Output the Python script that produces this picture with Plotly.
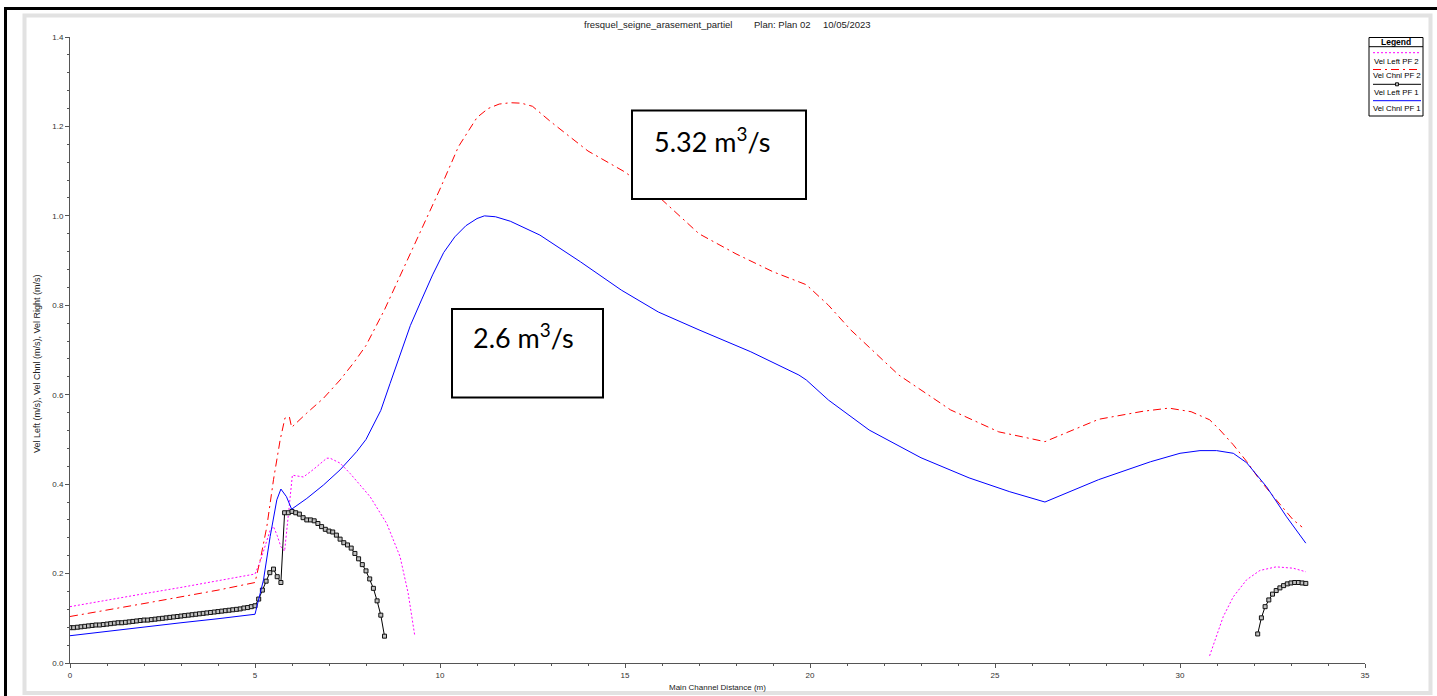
import plotly.graph_objects as go

# ---------------- data ----------------
# Vel Chnl PF 1 (blue solid)
chnl_pf1_x = [0, 1, 2, 3, 4, 5.0, 5.23, 5.41, 5.59, 5.70, 5.85, 5.99, 6.4, 6.85, 7.3, 7.75, 8.0, 8.4, 8.65,
              8.9, 9.2, 9.5, 9.8, 10.1, 10.4, 10.7, 11.0, 11.2, 11.5, 11.9, 12.7, 13.8, 14.9, 15.9, 17.0,
              18.4, 19.7, 19.9, 20.5, 21.6, 23.0, 24.3, 25.4, 26.35, 27.8, 29.2, 30.0, 30.54, 30.99,
              31.44, 31.8, 32.34, 32.88, 33.4]
chnl_pf1_y = [0.061, 0.071, 0.080, 0.090, 0.099, 0.109, 0.186, 0.283, 0.365, 0.389, 0.372, 0.344, 0.368,
              0.398, 0.432, 0.473, 0.500, 0.565, 0.625, 0.685, 0.755, 0.812, 0.868, 0.918, 0.953, 0.978,
              0.994, 1.0, 0.998, 0.988, 0.957, 0.897, 0.834, 0.785, 0.745, 0.696, 0.644, 0.633, 0.588,
              0.521, 0.459, 0.414, 0.383, 0.36, 0.41, 0.45, 0.469, 0.475, 0.475, 0.469, 0.448, 0.394,
              0.327, 0.268]

# Vel Chnl PF 2 (red dash-dot)
chnl_pf2_x = [0, 1, 2, 3, 4, 5.0, 5.14, 5.32, 5.5, 5.68, 5.81, 5.93, 5.99, 6.4, 6.85, 7.3, 7.7, 8.0, 8.5,
              9.0, 9.5, 10.0, 10.5, 11.0, 11.3, 11.6, 11.9, 12.2, 12.5, 13.0, 14.0, 15.0, 16.0, 17.0, 18.0,
              19.0, 19.9, 20.5, 21.1, 22.4, 23.8, 25.1, 26.35, 27.8, 29.0, 29.7, 30.3, 30.8, 31.08, 31.44,
              31.8, 32.16, 32.6, 33.06, 33.3]
chnl_pf2_y = [0.104, 0.118, 0.133, 0.148, 0.163, 0.180, 0.23, 0.305, 0.41, 0.499, 0.548, 0.55, 0.527,
              0.559, 0.592, 0.633, 0.675, 0.71, 0.79, 0.88, 0.97, 1.06, 1.155, 1.22, 1.24, 1.25, 1.253,
              1.252, 1.245, 1.21, 1.145, 1.098, 1.036, 0.96, 0.915, 0.875, 0.846, 0.80, 0.745, 0.644,
              0.566, 0.517, 0.495, 0.545, 0.563, 0.57, 0.562, 0.544, 0.521, 0.488, 0.451, 0.409, 0.365,
              0.32, 0.304]

# Vel Left PF 2 (magenta dotted) - two wetted reaches
left_pf2_x = [0, 1, 2, 3, 4, 5.0, 5.14, 5.27, 5.41, 5.5, 5.6, 5.7, 5.8, 5.9, 6.01, 6.31, 6.58, 6.94, 7.03,
              7.3, 7.57, 8.11, 8.56, 8.92, 9.14, 9.32,
              None,
              30.8, 30.99, 31.17, 31.44, 31.8, 32.16, 32.6, 33.06, 33.4]
left_pf2_y = [0.126, 0.141, 0.155, 0.169, 0.184, 0.199, 0.227, 0.26, 0.297, 0.305, 0.285, 0.26, 0.25,
              0.33, 0.42, 0.416, 0.433, 0.458, 0.458, 0.447, 0.424, 0.372, 0.312, 0.238, 0.156, 0.060,
              None,
              0.016, 0.059, 0.104, 0.148, 0.186, 0.207, 0.215, 0.212, 0.204]

# Vel Left PF 1 (black, square markers) - two wetted reaches
left_pf1_x = [0.0, 0.1, 0.2, 0.3, 0.4, 0.5, 0.6, 0.7, 0.8, 0.9,
              1.0, 1.1, 1.2, 1.3, 1.4, 1.5, 1.6, 1.7, 1.8, 1.9,
              2.0, 2.1, 2.2, 2.3, 2.4, 2.5, 2.6, 2.7, 2.8, 2.9,
              3.0, 3.1, 3.2, 3.3, 3.4, 3.5, 3.6, 3.7, 3.8, 3.9,
              4.0, 4.1, 4.2, 4.3, 4.4, 4.5, 4.6, 4.7, 4.8, 4.9,
              5.0, 5.1, 5.2, 5.3, 5.4, 5.5, 5.6, 5.7, 5.8, 5.9,
              6.0, 6.1, 6.2, 6.3, 6.4, 6.5, 6.6, 6.7, 6.8, 6.9,
              7.0, 7.1, 7.2, 7.3, 7.4, 7.5, 7.6, 7.7, 7.8, 7.9,
              8.0, 8.1, 8.2, 8.3, 8.4, 8.5,
              None,
              32.1, 32.2, 32.3, 32.4, 32.5, 32.6, 32.7, 32.8, 32.9, 33.0, 33.1, 33.2, 33.3, 33.4]
left_pf1_y = [0.079, 0.079, 0.080, 0.081, 0.082, 0.083, 0.084, 0.085, 0.085, 0.086,
              0.087, 0.088, 0.089, 0.090, 0.090, 0.091, 0.092, 0.093, 0.094, 0.095,
              0.096, 0.096, 0.097, 0.098, 0.099, 0.100, 0.101, 0.102, 0.103, 0.104,
              0.105, 0.106, 0.107, 0.108, 0.109, 0.110, 0.111, 0.112, 0.113, 0.114,
              0.115, 0.116, 0.117, 0.118, 0.119, 0.120, 0.121, 0.123, 0.124, 0.126,
              0.128, 0.143, 0.163, 0.183, 0.202, 0.210, 0.193, 0.180, 0.336, 0.336,
              0.339, 0.336, 0.333, 0.325, 0.320, 0.320, 0.318, 0.312, 0.305, 0.299,
              0.295, 0.293, 0.286, 0.277, 0.269, 0.264, 0.257, 0.245, 0.233, 0.220,
              0.206, 0.188, 0.167, 0.139, 0.107, 0.060,
              None,
              0.065, 0.101, 0.126, 0.141, 0.154, 0.162, 0.168, 0.173, 0.177, 0.179, 0.180, 0.180, 0.179, 0.178]

legend_labels = ["Vel Left PF 2", "Vel Chnl PF 2", "Vel Left PF 1", "Vel Chnl PF 1"]
title_parts = ["fresquel_seigne_arasement_partiel", "Plan: Plan 02", "10/05/2023"]
box_labels = ["5.32 m<sup>3</sup>/s", "2.6 m<sup>3</sup>/s"]
x_title = "Main Channel Distance (m)"
y_title = "Vel Left (m/s), Vel Chnl (m/s), Vel Right (m/s)"

# ---------------- layout geometry ----------------
W, H = 1437, 696
L, R, T, B = 70, 1365, 37, 663


def PX(px):
    return (px - L) / (R - L)


def PY(py):
    return (B - py) / (B - T)


FONT = "Liberation Sans, Arial, sans-serif"
MAG, RED, BLK, BLU = "#ff00ff", "#ff0000", "#000000", "#0000ff"
RED_DASH = "8px,4px,2px,4px"
MAG_DOT = "2px,2px"

fig = go.Figure()
fig.add_trace(go.Scatter(x=left_pf2_x, y=left_pf2_y, mode="lines", name=legend_labels[0],
                         line=dict(color=MAG, width=1, dash=MAG_DOT), connectgaps=False))
fig.add_trace(go.Scatter(x=chnl_pf2_x, y=chnl_pf2_y, mode="lines", name=legend_labels[1],
                         line=dict(color=RED, width=1, dash=RED_DASH)))
fig.add_trace(go.Scatter(x=left_pf1_x, y=left_pf1_y, mode="lines+markers", name=legend_labels[2],
                         line=dict(color=BLK, width=1), connectgaps=False,
                         marker=dict(symbol="square", size=4, color="#c0c0c0",
                                     line=dict(color="#111111", width=1))))
fig.add_trace(go.Scatter(x=chnl_pf1_x, y=chnl_pf1_y, mode="lines", name=legend_labels[3],
                         line=dict(color=BLU, width=1)))

shapes = []
# outer frame: black border (left / top) and grey shadow frame
shapes.append(dict(type="line", xref="paper", yref="paper", x0=PX(5.5), x1=PX(5.5), y0=PY(8.5), y1=PY(700),
                   line=dict(color="black", width=3)))
shapes.append(dict(type="line", xref="paper", yref="paper", x0=PX(4), x1=PX(1440), y0=PY(8.5), y1=PY(8.5),
                   line=dict(color="black", width=3)))
shapes.append(dict(type="rect", xref="paper", yref="paper", x0=PX(24.5), x1=PX(1430.5), y0=PY(15.5),
                   y1=PY(693), line=dict(color="#e2e2e2", width=4), layer="below"))

# annotation boxes
for (x0, y0, x1, y1) in [(632, 110.5, 806, 199), (452, 309, 603, 397.5)]:
    shapes.append(dict(type="rect", xref="paper", yref="paper", x0=PX(x0), x1=PX(x1), y0=PY(y0), y1=PY(y1),
                       line=dict(color="black", width=2), fillcolor="white", layer="above"))

# custom legend
lx0, lx1, ly0, ly1 = 1369, 1423, 37.5, 116
shapes.append(dict(type="rect", xref="paper", yref="paper", x0=PX(lx0), x1=PX(lx1), y0=PY(ly0), y1=PY(ly1),
                   line=dict(color="black", width=1), fillcolor="white", layer="above"))
shapes.append(dict(type="line", xref="paper", yref="paper", x0=PX(lx0), x1=PX(lx1), y0=PY(46.7), y1=PY(46.7),
                   line=dict(color="black", width=1), layer="above"))
samples = [(52.7, MAG, MAG_DOT), (69.5, RED, RED_DASH), (84.3, BLK, "solid"), (100.7, BLU, "solid")]
for (yy, col, dsh) in samples:
    shapes.append(dict(type="line", xref="paper", yref="paper", x0=PX(1373), x1=PX(1421), y0=PY(yy), y1=PY(yy),
                       line=dict(color=col, width=1, dash=dsh), layer="above"))
shapes.append(dict(type="rect", xref="paper", yref="paper", x0=PX(1395.5), x1=PX(1398.5), y0=PY(82.8),
                   y1=PY(85.8), line=dict(color="#111", width=1), fillcolor="#c0c0c0", layer="above"))

annotations = []
# title
for txt, xc in zip(title_parts, [657.5, 782, 846.5]):
    annotations.append(dict(text=txt, x=PX(xc), y=PY(25), xref="paper", yref="paper", showarrow=False,
                            xanchor="center", yanchor="middle", font=dict(family=FONT, size=9.5, color="#222")))
# axis titles
annotations.append(dict(text=x_title, x=PX(717), y=PY(687.5), xref="paper", yref="paper", showarrow=False,
                        xanchor="center", yanchor="middle", font=dict(family=FONT, size=8, color="#222")))
annotations.append(dict(text=y_title, x=PX(37), y=PY(364), xref="paper", yref="paper", showarrow=False,
                        textangle=-90, xanchor="center", yanchor="middle",
                        font=dict(family=FONT, size=9, color="#222")))
# box labels
for txt, (xl, yc) in zip(box_labels, [(652, 140), (471, 336)]):
    annotations.append(dict(text=txt, x=PX(xl), y=PY(yc), xref="paper", yref="paper", showarrow=False,
                            xanchor="left", yanchor="middle", font=dict(family="Lato, Carlito, sans-serif",
                                                                        size=27, color="black")))
# legend texts
annotations.append(dict(text="<b>Legend</b>", x=PX(1396), y=PY(42), xref="paper", yref="paper",
                        showarrow=False, xanchor="center", yanchor="middle",
                        font=dict(family=FONT, size=8.5, color="black")))
for txt, yy in zip(legend_labels, [61.5, 76, 92.3, 108.7]):
    annotations.append(dict(text=txt, x=PX(1397), y=PY(yy), xref="paper", yref="paper", showarrow=False,
                            xanchor="center", yanchor="middle", font=dict(family=FONT, size=7.8, color="black")))

axis_common = dict(showgrid=False, zeroline=False, showline=True, linecolor="#555", linewidth=1,
                   ticks="outside", ticklen=4, tickcolor="#555", tickwidth=1,
                   tickfont=dict(family=FONT, size=8, color="#333"))

fig.update_layout(
    width=W, height=H,
    margin=dict(l=L, r=W - R, t=T, b=H - B, pad=0),
    paper_bgcolor="white", plot_bgcolor="white",
    showlegend=False,
    xaxis=dict(range=[0, 35], dtick=5, tick0=0,
               minor=dict(dtick=1, ticks="outside", ticklen=2, tickcolor="#555"), **axis_common),
    yaxis=dict(range=[0, 1.4], dtick=0.2, tick0=0, tickformat=".1f",
               minor=dict(dtick=0.04, ticks="outside", ticklen=2, tickcolor="#555"), **axis_common),
    shapes=shapes,
    annotations=annotations,
)

fig.write_html("out.html", config={"displayModeBar": False},
               post_script="document.body.style.margin='0';document.body.style.overflow='hidden';")
